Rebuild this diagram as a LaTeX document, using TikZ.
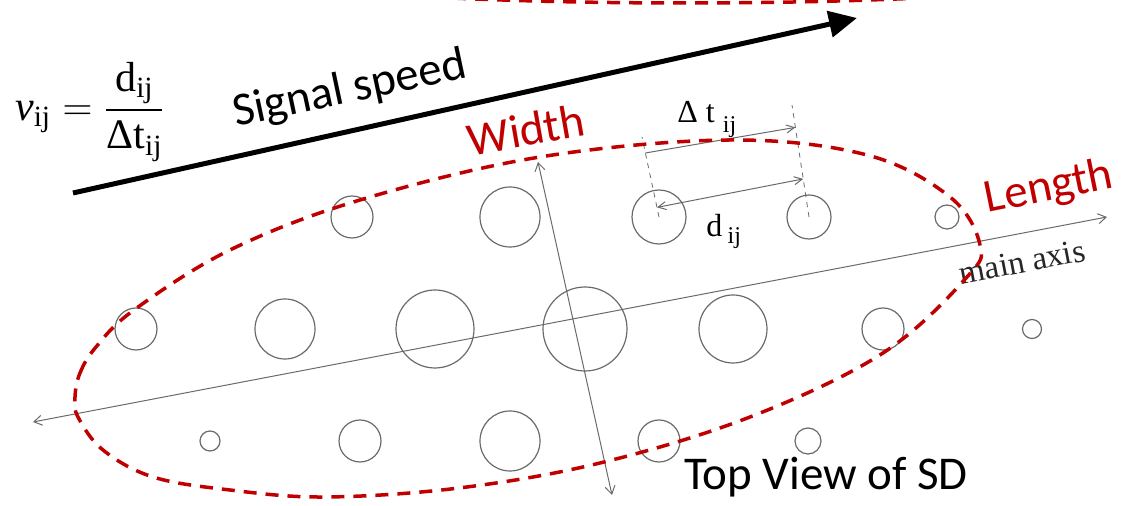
\documentclass[tikz,border=0pt]{standalone}
\usepackage{amsmath}
\usepackage{fontspec}
\setmainfont{Carlito}
\newfontfamily\tmsfont{Liberation Serif}
\usetikzlibrary{arrows.meta,positioning,calc}
\definecolor{sdred}{HTML}{C00000}
\definecolor{sdgray}{HTML}{6A6A6A}
\newcommand{\tms}[1]{\text{\tmsfont #1}}

\begin{document}
\begin{tikzpicture}[x=0.5pt,y=-0.5pt,
    hole/.style={draw=sdgray,line width=0.6pt,circle,inner sep=0pt,outer sep=0pt},
    outline/.style={draw=sdred,line width=1.75pt,dash pattern=on 6.5pt off 4.5pt},
    mainline/.style={{Straight Barb[length=4pt,width=5pt]}-{Straight Barb[length=4pt,width=5pt]},draw=sdgray,line width=0.5pt},
    ext/.style={draw=sdgray,line width=0.4pt,dash pattern=on 2.5pt off 2.5pt},
    dimline/.style={draw=sdgray,line width=0.5pt},
    lbl/.style={font=\fontsize{23.5}{24}\selectfont},
    serif/.style={font=\tmsfont\fontsize{16}{17}\selectfont}]
  \useasboundingbox (0,0) rectangle (1125,506);
  \clip (0,0) rectangle (1125,506);

  % holes, three rows
  \foreach \x/\r [count=\i] in {352/21,510/30,659/27,809/22,947/12}
    \node[hole,minimum size=\r pt] (a\i) at (\x,217) {};
  \foreach \x/\r [count=\i] in {136/21,285/30,435/39,585/42,733/34,883/21,1032/9.5}
    \node[hole,minimum size=\r pt] (b\i) at (\x,329) {};
  \foreach \x/\r [count=\i] in {210/10,360/21,510/30,659/21,808/13}
    \node[hole,minimum size=\r pt] (c\i) at (\x,441) {};

  % main axis and width axis
  \coordinate (mainL) at (33,422);
  \coordinate (mainR) at (1107,217);
  \coordinate (widT) at (538,162);
  \coordinate (widB) at (612,495);
  \draw[mainline] (mainL) -- (mainR);
  \draw[mainline] (widT) -- (widB);
  \node[font=\tmsfont\fontsize{16.5}{17}\selectfont,text=black!85,rotate=10.8] (axislbl) at (1022,262) {main axis};

  % distance and delay between two holes
  \coordinate (extL) at (642,137);
  \coordinate (extR) at (792,105);
  \draw[ext] (a3.center) -- (extL);
  \draw[ext] (a4.center) -- (extR);
  \draw[dimline,-{Straight Barb[length=4pt,width=4pt]}]
    ($(a3.center)!0.8!(extL)$) -- ($(a4.center)!0.8!(extR)$);
  \draw[dimline,{Straight Barb[length=4pt,width=4pt]}-{Straight Barb[length=4pt,width=4pt]}]
    ($(a3.center)!0.12!(extL)$) -- ($(a4.center)!0.34!(extR)$);
  \node[serif,anchor=base west,inner sep=0pt] (dtlbl) at (677,123)
    {Δ t \raisebox{-5pt}{\fontsize{12}{12}\selectfont ij}};
  \node[serif,anchor=base west,inner sep=0pt] (dlbl) at (706,237)
    {d\,\raisebox{-3.5pt}{\fontsize{12}{12}\selectfont ij}};

  % outlines of the signal footprint
  \draw[outline] (686,-40) ellipse [x radius=500, y radius=43];
  \draw[outline] plot[smooth cycle,tension=0.6] coordinates {(75,397) (80,373) (96,347)
    (134,310) (230,250) (360,200) (540,157) (730,140) (867,155) (950,197) (980,245)
    (967,277) (883,353) (750,417) (600,463) (459,488) (325,497) (230,490) (153,477)
    (103,450) (78,417)};
  \node[lbl,text=sdred,rotate=10] (width) at (526,130) {Width};
  \node[lbl,text=sdred,rotate=11.5] (length) at (1049,188) {Length};

  % signal speed
  \coordinate (sigA) at (73,193);
  \coordinate (sigB) at (857,18);
  \draw[-{Triangle[length=14pt,width=13pt]},line width=2.5pt] (sigA) -- (sigB);
  \node[lbl,rotate=12] (speed) at (350,90) {Signal speed};
  \node[font=\tmsfont\fontsize{21}{22}\selectfont] (vel) at (90,112)
    {$\tms{\itshape v}_{\tms{ij}} = \dfrac{\tms{d}_{\tms{ij}}}{\tms{Δt}_{\tms{ij}}}$};

  \node[lbl,anchor=base] (title) at (826,490) {Top View of SD};
\end{tikzpicture}
\end{document}
